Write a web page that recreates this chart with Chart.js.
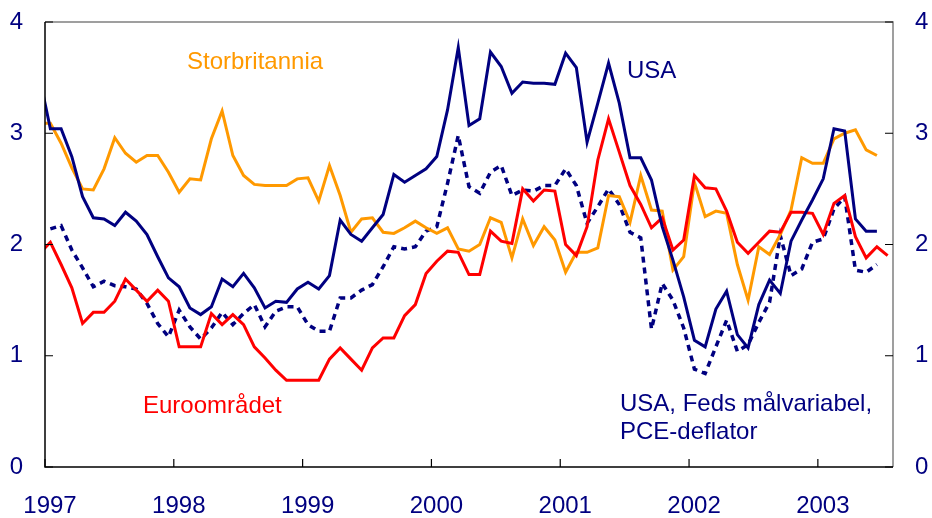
<!DOCTYPE html>
<html>
<head>
<meta charset="utf-8">
<script src="https://cdn.jsdelivr.net/npm/chart.js@4.4.1/dist/chart.umd.min.js"></script>
<style>
    html, body { margin: 0; padding: 0; background: #ffffff; }
    #wrap { width: 932px; height: 518px; position: relative; }
</style>
</head>
<body>
<div id="wrap"><canvas id="chart"></canvas></div>
<script>
// ===============================
// Inflation chart, monthly values (first entry = Dec 1996)
// ===============================

const startYear = 1997;
const yearTicks = [1997, 1998, 1999, 2000, 2001, 2002, 2003];
const valueTicks = [0, 1, 2, 3, 4];

const usa = [
    3.50,
    3.04, 3.04, 2.79, 2.43, 2.24, 2.23, 2.17, 2.29, 2.21, 2.09, 1.89, 1.70,
    1.62, 1.43, 1.37, 1.44, 1.69, 1.62, 1.74, 1.61, 1.43, 1.49, 1.48, 1.60,
    1.66, 1.60, 1.72, 2.22, 2.09, 2.03, 2.15, 2.27, 2.63, 2.56, 2.62, 2.68,
    2.79, 3.21, 3.77, 3.07, 3.13, 3.73, 3.60, 3.36, 3.46, 3.45, 3.45, 3.44,
    3.72, 3.59, 2.92, 3.27, 3.63, 3.27, 2.78, 2.78, 2.58, 2.16, 1.86, 1.53,
    1.14, 1.08, 1.42, 1.58, 1.19, 1.07, 1.46, 1.68, 1.56, 2.03, 2.22, 2.40,
    2.59, 3.04, 3.02, 2.23, 2.12, 2.12,
];

const usaPce = [
    null,
    2.14, 2.17, 1.95, 1.79, 1.62, 1.67, 1.63, 1.62, 1.60, 1.47, 1.29, 1.17,
    1.41, 1.26, 1.15, 1.25, 1.39, 1.28, 1.38, 1.46, 1.26, 1.40, 1.44, 1.44,
    1.28, 1.22, 1.22, 1.52, 1.52, 1.59, 1.64, 1.80, 1.98, 1.96, 1.98, 2.12,
    2.16, 2.55, 2.98, 2.52, 2.46, 2.65, 2.71, 2.44, 2.49, 2.48, 2.53, 2.53,
    2.68, 2.53, 2.19, 2.34, 2.50, 2.36, 2.11, 2.06, 1.24, 1.65, 1.50, 1.25,
    0.88, 0.84, 1.08, 1.32, 1.04, 1.10, 1.30, 1.48, 2.08, 1.72, 1.78, 2.02,
    2.05, 2.32, 2.43, 1.77, 1.75, 1.82,
];

const storbritannia = [
    3.09,
    3.09, 2.91, 2.69, 2.50, 2.49, 2.68, 2.96, 2.82, 2.74, 2.80, 2.80, 2.65,
    2.47, 2.59, 2.58, 2.95, 3.20, 2.80, 2.62, 2.54, 2.53, 2.53, 2.53, 2.59,
    2.60, 2.39, 2.71, 2.44, 2.11, 2.23, 2.24, 2.11, 2.10, 2.15, 2.21, 2.15,
    2.10, 2.15, 1.96, 1.94, 2.00, 2.24, 2.20, 1.88, 2.23, 1.99, 2.16, 2.04,
    1.75, 1.93, 1.93, 1.97, 2.44, 2.43, 2.20, 2.62, 2.31, 2.30, 1.77, 1.89,
    2.56, 2.25, 2.30, 2.28, 1.82, 1.50, 1.98, 1.91, 2.09, 2.31, 2.78, 2.73,
    2.73, 2.95, 3.00, 3.03, 2.85, 2.80,
];

const euroomradet = [
    1.92,
    2.02, 1.82, 1.61, 1.29, 1.39, 1.39, 1.49, 1.69, 1.59, 1.49, 1.59, 1.49,
    1.08, 1.08, 1.08, 1.38, 1.28, 1.37, 1.28, 1.08, 0.98, 0.87, 0.78, 0.78,
    0.78, 0.78, 0.97, 1.07, 0.97, 0.87, 1.07, 1.16, 1.16, 1.36, 1.46, 1.74,
    1.85, 1.94, 1.93, 1.73, 1.73, 2.12, 2.03, 2.01, 2.50, 2.39, 2.49, 2.48,
    2.00, 1.90, 2.16, 2.76, 3.13, 2.83, 2.53, 2.36, 2.15, 2.24, 1.95, 2.04,
    2.62, 2.51, 2.50, 2.30, 2.02, 1.92, 2.02, 2.12, 2.11, 2.29, 2.29, 2.28,
    2.09, 2.37, 2.44, 2.07, 1.88, 1.98, 1.90,
];

const NAVY = "#000080";
const ORANGE = "#FF9900";
const RED = "#FF0000";
const FONT = "'Liberation Sans', Arial, sans-serif";

// month index -> position on the x scale (points sit mid-month, first entry is Dec 1996)
const toPoints = (arr) => arr.map((v, i) => ({ x: i - 0.5, y: v }));

const annotations = [
    { text: "Storbritannia", x: 187, y: 69, color: ORANGE },
    { text: "USA", x: 627, y: 78, color: NAVY },
    { text: "Euroområdet", x: 143, y: 413, color: RED },
    { text: "USA, Feds målvariabel,", x: 620, y: 411, color: NAVY },
    { text: "PCE-deflator", x: 620, y: 439, color: NAVY },
];

/**
 * Frame, inward ticks, tick labels on both sides and series labels
 */
const framePlugin = {
    id: "frame",
    afterDatasetsDraw(chart) {
        const { ctx, chartArea: a, scales } = chart;
        const xs = scales.x;
        const ys = scales.y;
        ctx.save();
        ctx.lineWidth = 1.5;
        // top + right in grey
        ctx.strokeStyle = "#808080";
        ctx.beginPath();
        ctx.moveTo(a.left, a.top);
        ctx.lineTo(a.right, a.top);
        ctx.lineTo(a.right, a.bottom);
        ctx.stroke();
        // left + bottom in black
        ctx.strokeStyle = "#000000";
        ctx.beginPath();
        ctx.moveTo(a.left, a.top);
        ctx.lineTo(a.left, a.bottom);
        ctx.lineTo(a.right, a.bottom);
        ctx.stroke();

        // inward tick marks
        ctx.lineWidth = 1.2;
        ctx.beginPath();
        yearTicks.forEach((yr) => {
            const px = xs.getPixelForValue((yr - startYear) * 12);
            ctx.moveTo(px, a.bottom);
            ctx.lineTo(px, a.bottom - 8);
        });
        valueTicks.forEach((v) => {
            const py = ys.getPixelForValue(v);
            ctx.moveTo(a.left, py);
            ctx.lineTo(a.left + 8, py);
            ctx.moveTo(a.right, py);
            ctx.lineTo(a.right - 8, py);
        });
        ctx.stroke();

        // tick labels
        ctx.font = "24px " + FONT;
        ctx.fillStyle = NAVY;
        ctx.textBaseline = "middle";
        valueTicks.forEach((v) => {
            const py = ys.getPixelForValue(v);
            ctx.textAlign = "right";
            ctx.fillText(String(v), a.left - 22, py);
            ctx.textAlign = "left";
            ctx.fillText(String(v), a.right + 22, py);
        });
        ctx.textBaseline = "top";
        ctx.textAlign = "center";
        yearTicks.forEach((yr) => {
            const px = xs.getPixelForValue((yr - startYear) * 12);
            ctx.fillText(String(yr), px + 5, a.bottom + 27);
        });

        // series labels
        ctx.textBaseline = "alphabetic";
        ctx.textAlign = "left";
        annotations.forEach((n) => {
            ctx.fillStyle = n.color;
            ctx.fillText(n.text, n.x, n.y);
        });
        ctx.restore();
    },
};

new Chart(document.getElementById("chart"), {
    type: "line",
    data: {
        datasets: [
            { label: "USA", data: toPoints(usa), borderColor: NAVY, borderWidth: 3 },
            { label: "Euroområdet", data: toPoints(euroomradet), borderColor: RED, borderWidth: 3 },
            { label: "Storbritannia", data: toPoints(storbritannia), borderColor: ORANGE, borderWidth: 3 },
            {
                label: "USA, Feds målvariabel, PCE-deflator",
                data: toPoints(usaPce),
                borderColor: NAVY,
                borderWidth: 3.5,
                borderDash: [6, 5],
                borderCapStyle: "butt",
            },
        ],
    },
    options: {
        responsive: true,
        maintainAspectRatio: false,
        animation: false,
        devicePixelRatio: 1,
        layout: { padding: { top: 22, left: 45, right: 39, bottom: 51 } },
        elements: {
            point: { radius: 0 },
            line: { tension: 0, fill: false },
        },
        datasets: { line: { clip: 0, spanGaps: false } },
        plugins: { legend: { display: false }, tooltip: { enabled: false } },
        scales: {
            x: { type: "linear", min: 0, max: 79, display: false },
            y: { min: 0, max: 4, display: false },
        },
    },
    plugins: [framePlugin],
});
</script>
</body>
</html>
